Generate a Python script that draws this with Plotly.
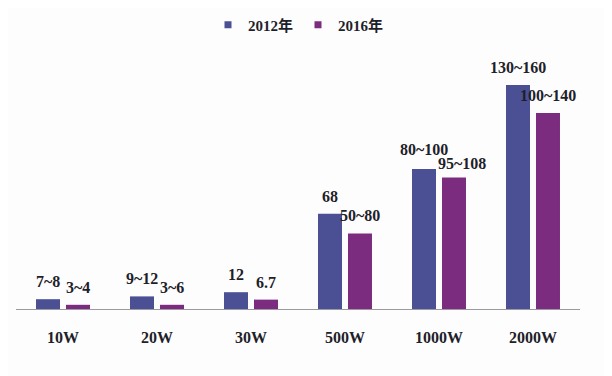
import plotly.graph_objects as go

categories = ["10W", "20W", "30W", "500W", "1000W", "2000W"]
series_names = ["2012年", "2016年"]
values_2012 = [7, 9, 12, 68, 100, 160]
values_2016 = [3, 3, 6.7, 54, 94, 140]
labels_2012 = ["7~8", "9~12", "12", "68", "80~100", "130~160"]
labels_2016 = ["3~4", "3~6", "6.7", "50~80", "95~108", "100~140"]

colors = ["#4b4f93", "#7b2c7f"]
font_family = "Liberation Serif, Noto Sans CJK SC, serif"
text_color = "#1f1f2a"

fig = go.Figure()
for name, vals, col in zip(series_names, [values_2012, values_2016], colors):
    fig.add_trace(go.Bar(x=categories, y=vals, name=name, marker_color=col,
                         marker_line_width=0, showlegend=False))
    # legend proxy with small square marker
    fig.add_trace(go.Scatter(x=[None], y=[None], mode="markers", name=name,
                             marker=dict(symbol="square", size=7, color=col)))

offsets = [-15, 15]
annotations = []
for si, (off, vals, labs) in enumerate(zip(offsets, [values_2012, values_2016],
                                           [labels_2012, labels_2016])):
    for ci, (c, v, t) in enumerate(zip(categories, vals, labs)):
        xs, ys = off, 7
        if si == 1 and c == "1000W":
            xs, ys = off + 8, 3   # nudged right as in the original to clear the neighbour label
        if si == 0 and c == "1000W":
            ys = 9
        annotations.append(dict(x=c, y=v, text=t, xref="x", yref="y", showarrow=False,
                                xshift=xs, yshift=ys, yanchor="bottom",
                                font=dict(family=font_family, size=16, color=text_color,
                                          weight="bold")))

fig.update_layout(
    width=604, height=368,
    margin=dict(l=8, r=32, t=63, b=67),
    paper_bgcolor="#fdfdfe", plot_bgcolor="#fdfdfe",
    barmode="group", bargap=0.362, bargroupgap=0.2,
    annotations=annotations,
    legend=dict(orientation="h", x=0.5, xanchor="center",
                yref="container", y=0.954, yanchor="middle",
                font=dict(family=font_family, size=15, color=text_color, weight="bold"),
                itemwidth=30, entrywidth=45, tracegroupgap=0, bgcolor="rgba(0,0,0,0)"),
    xaxis=dict(showline=True, linecolor="#9a9aa0", linewidth=1, showgrid=False,
               ticks="", ticklabelstandoff=14,
               tickfont=dict(family=font_family, size=16, color=text_color, weight="bold")),
    yaxis=dict(visible=False, range=[0, 170], showgrid=False, zeroline=False),
)

fig.write_html("out.html")
